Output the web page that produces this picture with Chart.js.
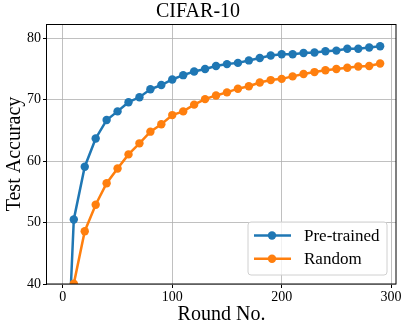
<!DOCTYPE html>
<html lang="en">
<head>
  <meta charset="UTF-8">
  <title>CIFAR-10</title>
  <script src="https://cdn.jsdelivr.net/npm/chart.js@4.4.0/dist/chart.umd.min.js"></script>
  <style>
    body { margin: 0; background: #fff; }
  </style>
</head>
<body>
  <canvas id="accChart" width="407" height="331"></canvas>
  <script>
    // communication rounds and test accuracy (%)
    const rounds = [0, 10, 20, 30, 40, 50, 60, 70, 80, 90, 100, 110, 120, 130, 140,
      150, 160, 170, 180, 190, 200, 210, 220, 230, 240, 250, 260, 270, 280, 290];
    const pretrained = [10, 50.5, 59.1, 63.7, 66.7, 68.1, 69.6, 70.4, 71.7, 72.4, 73.3, 74.0, 74.6, 75.0, 75.5,
      75.8, 76.0, 76.4, 76.8, 77.2, 77.4, 77.4, 77.6, 77.7, 77.9, 78.0, 78.3, 78.3, 78.5, 78.7];
    const random = [10, 40.05, 48.6, 52.9, 56.4, 58.8, 61.1, 62.9, 64.8, 66.0, 67.5, 68.1, 69.2, 70.1, 70.7,
      71.2, 71.8, 72.2, 72.8, 73.2, 73.4, 73.8, 74.2, 74.5, 74.8, 75.0, 75.2, 75.4, 75.5, 75.9];
    const xTicks = [0, 100, 200, 300];
    const yTicks = [40, 50, 60, 70, 80];

    const serif = "'Liberation Serif', 'DejaVu Serif', serif";
    const blue = '#1f77b4', orange = '#ff7f0e';

    // black frame on all 4 sides + legend box in the lower right (like matplotlib)
    const frameLegend = {
      id: 'frameLegend',
      afterDraw(chart) {
        const ctx = chart.ctx, a = chart.chartArea;
        ctx.save();
        ctx.strokeStyle = '#000';
        ctx.lineWidth = 1;
        ctx.strokeRect(Math.round(a.left) - 0.5, Math.round(a.top) + 0.5,
          Math.round(a.right - a.left) + 0.5, Math.round(a.bottom - a.top) - 0.5);

        const bw = 139, bh = 53;
        const bx = a.right - 9 - bw, by = a.bottom - 9 - bh;
        ctx.beginPath();
        ctx.roundRect(bx, by, bw, bh, 3);
        ctx.fillStyle = 'rgba(255,255,255,0.8)';
        ctx.fill();
        ctx.strokeStyle = '#d0d0d0';
        ctx.stroke();

        chart.data.datasets.forEach((ds, i) => {
          const y = by + 13.5 + i * 23.3;
          ctx.strokeStyle = ds.borderColor;
          ctx.lineWidth = 2.5;
          ctx.beginPath();
          ctx.moveTo(bx + 6, y);
          ctx.lineTo(bx + 43, y);
          ctx.stroke();
          ctx.fillStyle = ds.borderColor;
          ctx.beginPath();
          ctx.arc(bx + 24, y, 4.2, 0, Math.PI * 2);
          ctx.fill();
          ctx.fillStyle = '#000';
          ctx.font = '17px ' + serif;
          ctx.textBaseline = 'middle';
          ctx.fillText(ds.label, bx + 56, y + 1);
        });
        ctx.restore();
      }
    };

    const toPoints = ys => rounds.map((r, i) => ({ x: r, y: ys[i] }));

    new Chart(document.getElementById('accChart'), {
      type: 'line',
      data: {
        datasets: [{
          label: 'Pre-trained',
          data: toPoints(pretrained),
          borderColor: blue,
          backgroundColor: blue,
          borderWidth: 2.5,
          pointRadius: 4.2,
          pointBorderWidth: 0,
          order: 2
        },
        {
          label: 'Random',
          data: toPoints(random),
          borderColor: orange,
          backgroundColor: orange,
          borderWidth: 2.5,
          pointRadius: 4.2,
          pointBorderWidth: 0,
          order: 1
        }]
      },
      options: {
        responsive: false,
        animation: false,
        layout: { padding: { left: 0, right: 11, top: 0, bottom: 0 } },
        plugins: {
          legend: { display: false },
          tooltip: { enabled: false },
          title: {
            display: true,
            text: 'CIFAR-10',
            color: '#000',
            font: { family: serif, size: 20, weight: 'normal', lineHeight: 1.1 },
            padding: { top: 1, bottom: 1 }
          }
        },
        scales: {
          x: {
            type: 'linear',
            min: -14.5,
            max: 304.5,
            afterBuildTicks: s => { s.ticks = xTicks.map(v => ({ value: v })); },
            afterFit: s => { s.height = 47; },
            border: { display: false },
            grid: { color: 'rgba(176,176,176,0.8)', tickColor: '#000', tickLength: 4 },
            ticks: { color: '#000', padding: 1, maxRotation: 0, font: { family: serif, size: 14 } },
            title: { display: true, text: 'Round No.', color: '#000', padding: { top: 0, bottom: 4 },
              font: { family: serif, size: 20 } }
          },
          y: {
            min: 40,
            max: 82.33,
            afterBuildTicks: s => { s.ticks = yTicks.map(v => ({ value: v })); },
            afterFit: s => { s.width = 47; },
            border: { display: false },
            grid: { color: 'rgba(176,176,176,0.8)', tickColor: '#000', tickLength: 4 },
            ticks: { color: '#000', padding: 2, font: { family: serif, size: 14 } },
            title: { display: true, text: 'Test Accuracy', color: '#000', padding: { top: 3, bottom: 0 },
              font: { family: serif, size: 20 } }
          }
        }
      },
      plugins: [frameLegend]
    });
  </script>
</body>
</html>
